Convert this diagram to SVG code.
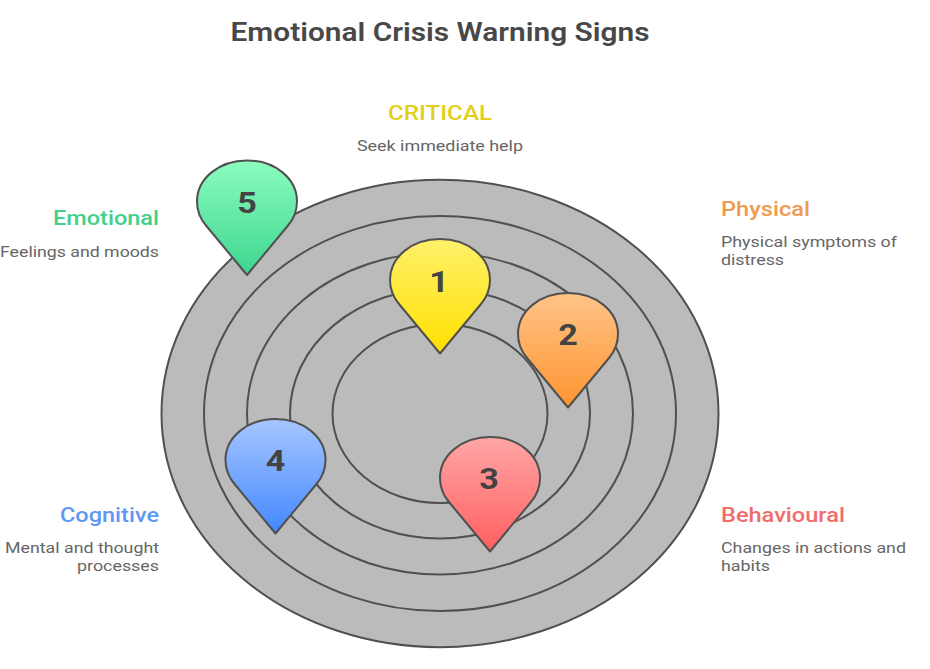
<svg xmlns="http://www.w3.org/2000/svg" xmlns:xlink="http://www.w3.org/1999/xlink" width="930" height="669" viewBox="0 0 930 669">
<style>
text{font-family:Roboto,"Liberation Sans",sans-serif}
.ring{fill:#bbbbbb;stroke:#505050;stroke-width:2}
.pin{stroke:#505050;stroke-width:2;stroke-linejoin:round}
.num{font-size:30px;font-weight:700;fill:#434343;text-anchor:middle}
.head{font-size:21px;font-weight:500}
.desc{font-size:15.5px;fill:#666666}
.end{text-anchor:end}
.mid{text-anchor:middle}
</style>
<defs>
<path id="p" d="M0 114.5L-41 65C-47 58-50 50-50 41C-50 18-28 0 0 0C28 0 50 18 50 41C50 50 47 58 41 65Z"/>
<linearGradient id="g1" x1="0" y1="0" x2="0" y2="1"><stop offset="0" stop-color="#fff06a"/><stop offset="1" stop-color="#ffe000"/></linearGradient>
<linearGradient id="g2" x1="0" y1="0" x2="0" y2="1"><stop offset="0" stop-color="#ffc488"/><stop offset="1" stop-color="#ff9430"/></linearGradient>
<linearGradient id="g3" x1="0" y1="0" x2="0" y2="1"><stop offset="0" stop-color="#ffa6a6"/><stop offset="1" stop-color="#ff5f5f"/></linearGradient>
<linearGradient id="g4" x1="0" y1="0" x2="0" y2="1"><stop offset="0" stop-color="#a6c6ff"/><stop offset="1" stop-color="#4388ff"/></linearGradient>
<linearGradient id="g5" x1="0" y1="0" x2="0" y2="1"><stop offset="0" stop-color="#8cfcc0"/><stop offset="1" stop-color="#3cd68e"/></linearGradient>
</defs>
<rect width="930" height="669" fill="#fff"/>
<text x="440" y="41" class="mid" font-size="26" font-weight="600" fill="#484848" textLength="419" lengthAdjust="spacingAndGlyphs">Emotional Crisis Warning Signs</text>
<g id="rings">
<ellipse class="ring" cx="440" cy="413.5" rx="278.5" ry="233.7"/>
<ellipse class="ring" cx="440" cy="413.5" rx="236" ry="197.5"/>
<ellipse class="ring" cx="440" cy="413.5" rx="193" ry="161"/>
<ellipse class="ring" cx="440" cy="413.5" rx="150" ry="125"/>
<ellipse class="ring" cx="440" cy="413.5" rx="107.5" ry="89.5"/>
</g>
<g id="connectors"/>
<g id="node-1"><use xlink:href="#p" href="#p" class="pin" fill="url(#g1)" transform="translate(440 239)"/><text x="439" y="292" class="num" textLength="19.600" lengthAdjust="spacingAndGlyphs">1</text></g>
<g id="node-2"><use xlink:href="#p" href="#p" class="pin" fill="url(#g2)" transform="translate(568 293)"/><text x="568" y="345" class="num" textLength="19.600" lengthAdjust="spacingAndGlyphs">2</text></g>
<g id="node-3"><use xlink:href="#p" href="#p" class="pin" fill="url(#g3)" transform="translate(490 437)"/><text x="489" y="489" class="num" textLength="19.600" lengthAdjust="spacingAndGlyphs">3</text></g>
<g id="node-4"><use xlink:href="#p" href="#p" class="pin" fill="url(#g4)" transform="translate(275.500 419)"/><text x="275.500" y="471" class="num" textLength="19.600" lengthAdjust="spacingAndGlyphs">4</text></g>
<g id="node-5"><use xlink:href="#p" href="#p" class="pin" fill="url(#g5)" transform="translate(247 160.500)"/><text x="247" y="213" class="num" textLength="19.600" lengthAdjust="spacingAndGlyphs">5</text></g>
<g id="label-critical"><text x="440" y="120" class="head mid" fill="#e3cf18" textLength="104" lengthAdjust="spacingAndGlyphs">CRITICAL</text><text x="440" y="151" class="desc mid" textLength="166" lengthAdjust="spacingAndGlyphs">Seek immediate help</text></g>
<g id="label-physical"><text x="721" y="216" class="head" fill="#ee9b4f" textLength="89" lengthAdjust="spacingAndGlyphs">Physical</text><text x="721" y="247" class="desc" textLength="176" lengthAdjust="spacingAndGlyphs">Physical symptoms of</text><text x="721" y="265" class="desc" textLength="63" lengthAdjust="spacingAndGlyphs">distress</text></g>
<g id="label-behavioural"><text x="721" y="522" class="head" fill="#f16d6d" textLength="124" lengthAdjust="spacingAndGlyphs">Behavioural</text><text x="721" y="553" class="desc" textLength="185" lengthAdjust="spacingAndGlyphs">Changes in actions and</text><text x="721" y="571" class="desc" textLength="49" lengthAdjust="spacingAndGlyphs">habits</text></g>
<g id="label-cognitive"><text x="159" y="522" class="head end" fill="#5f97f5" textLength="99" lengthAdjust="spacingAndGlyphs">Cognitive</text><text x="159" y="553" class="desc end" textLength="154" lengthAdjust="spacingAndGlyphs">Mental and thought</text><text x="159" y="571" class="desc end" textLength="82" lengthAdjust="spacingAndGlyphs">processes</text></g>
<g id="label-emotional"><text x="159" y="225" class="head end" fill="#43cf8c" textLength="106" lengthAdjust="spacingAndGlyphs">Emotional</text><text x="159" y="257" class="desc end" textLength="159" lengthAdjust="spacingAndGlyphs">Feelings and moods</text></g>
</svg>
